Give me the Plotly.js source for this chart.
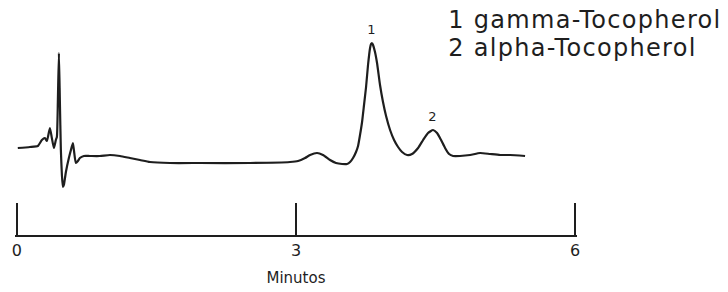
<!DOCTYPE html>
<html>
<head>
<meta charset="utf-8">
<script src="https://cdn.plot.ly/plotly-3.0.1.min.js"></script>
<style>
html,body{margin:0;padding:0;background:#fff;}
g.annotation text.annotation-text{letter-spacing:1.3px;}
</style>
</head>
<body>
<div id="chart" style="width:728px;height:292px;"></div>
<script>
// Retention time (minutes)
const timeMin = [0.01,0.14,0.226,0.269,0.301,0.323,0.355,0.376,0.398,0.419,0.43,0.441,0.452,0.462,0.473,0.484,0.495,0.505,0.527,0.559,0.581,0.602,0.613,0.634,0.656,0.677,0.72,0.785,0.892,1.0,1.108,1.215,1.323,1.43,1.645,1.968,2.505,2.935,3.022,3.097,3.151,3.226,3.29,3.366,3.43,3.495,3.548,3.581,3.613,3.645,3.667,3.688,3.71,3.731,3.753,3.774,3.796,3.806,3.817,3.828,3.849,3.871,3.903,3.935,3.968,4.011,4.054,4.097,4.14,4.194,4.247,4.312,4.366,4.419,4.473,4.516,4.559,4.602,4.645,4.688,4.763,4.871,4.978,5.086,5.194,5.301,5.462];
// Detector response (arbitrary units)
const signal = [87,88,89,95,97,94,107,97,87,95,98,135,182,135,85,60,48,50,63,77,85,92,85,72,74,77,79,79,79,80,79,77,75,73,72,72,72,73,74,77,80,82,80,75,72,71,71,73,77,83,89,100,113,130,148,170,187,191,192,190,183,172,150,133,119,105,95,88,83,80,81,87,95,102,105,102,95,87,81,79,79,80,82,81,80,80,79];
// Peaks
const peakLabels = ["1","2"];
const peakTimes = [3.817,4.473];
const peakHeights = [192,105];
const compounds = ["1 gamma-Tocopherol","2 alpha-Tocopherol"];
const tickVals = [0,3,6];
const tickText = ["0","3","6"];
const xTitle = "Minutos";

const FONT = "DejaVu Sans, Arial, sans-serif";
const INK = "#1e1e1e";

const annotations = [];
peakLabels.forEach((lab,i)=>{
  annotations.push({x:peakTimes[i], y:peakHeights[i], xref:'x', yref:'y', text:lab,
    showarrow:false, yanchor:'bottom', yshift:4, font:{family:FONT,size:13,color:INK}});
});
compounds.forEach((c,i)=>{
  annotations.push({x:0.789, y:[0.915,0.797][i], xref:'paper', yref:'paper', text:c,
    showarrow:false, xanchor:'left', yanchor:'middle', font:{family:FONT,size:24,color:INK}});
});

const trace = {x:timeMin, y:signal, type:'scatter', mode:'lines',
  line:{color:INK, width:2.2, shape:'spline', smoothing:0.5}, hoverinfo:'skip'};

const layout = {
  width:728, height:292,
  margin:{l:15, r:151, t:0, b:57},
  paper_bgcolor:'#fff', plot_bgcolor:'#fff',
  showlegend:false,
  xaxis:{range:[-0.02,6.02], tickvals:tickVals, ticktext:tickText, showgrid:false, zeroline:false,
    showline:true, linecolor:INK, linewidth:2, ticks:'inside', ticklen:32, tickwidth:2, tickcolor:INK,
    tickfont:{family:FONT,size:16,color:INK},
    title:{text:xTitle, font:{family:FONT,size:15,color:INK}, standoff:13}},
  yaxis:{range:[0,235], visible:false, showgrid:false, zeroline:false},
  annotations:annotations
};
Plotly.newPlot('chart',[trace],layout,{staticPlot:true, displayModeBar:false});
</script>
</body>
</html>
